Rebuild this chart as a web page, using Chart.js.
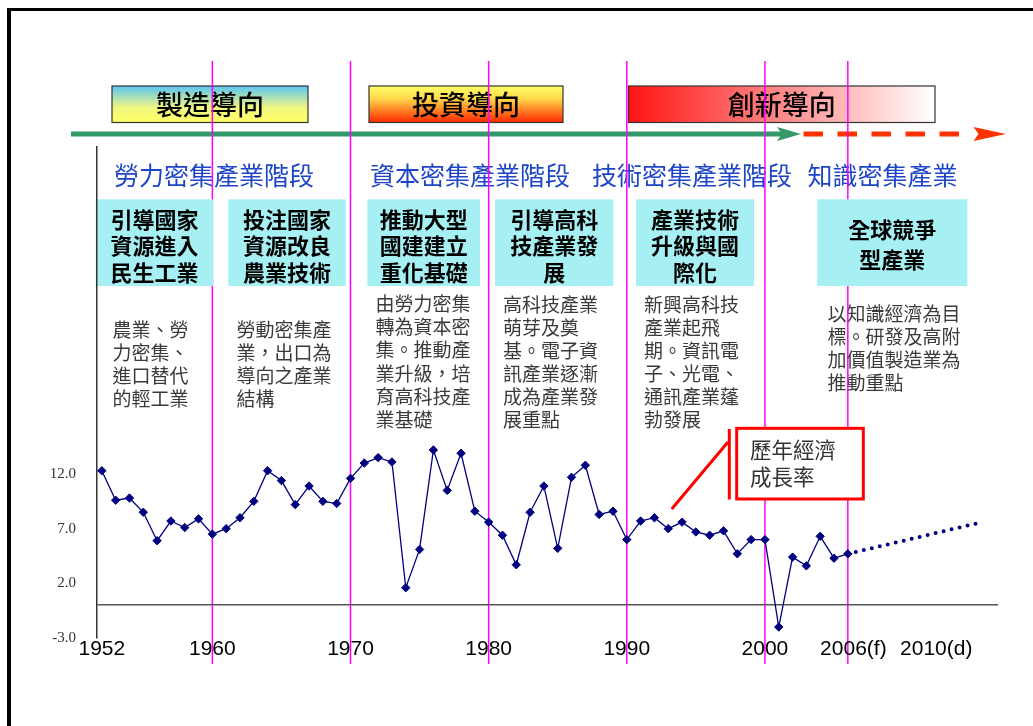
<!DOCTYPE html>
<html lang="zh-Hant">
<head>
<meta charset="utf-8">
<title>台灣產業發展階段與歷年經濟成長率</title>
<script src="https://cdn.jsdelivr.net/npm/chart.js@4.4.1/dist/chart.umd.min.js"></script>
<style>
  html, body { margin: 0; padding: 0; background: #fff; }
  #wrap { width: 1033px; height: 726px; }
</style>
</head>
<body>
<div id="wrap"><canvas id="growth" width="1033" height="726"></canvas></div>
<script>
// annual economic growth rate (%)
const years = [1952, 1953, 1954, 1955, 1956, 1957, 1958, 1959, 1960, 1961,
               1962, 1963, 1964, 1965, 1966, 1967, 1968, 1969, 1970, 1971,
               1972, 1973, 1974, 1975, 1976, 1977, 1978, 1979, 1980, 1981,
               1982, 1983, 1984, 1985, 1986, 1987, 1988, 1989, 1990, 1991,
               1992, 1993, 1994, 1995, 1996, 1997, 1998, 1999, 2000, 2001,
               2002, 2003, 2004, 2005, 2006];
const growth = [12.3, 9.6, 9.8, 8.5, 5.9, 7.7, 7.1, 7.9, 6.5, 7.0,
                8.0, 9.5, 12.3, 11.4, 9.2, 10.9, 9.5, 9.3, 11.6, 13.0,
                13.5, 13.1, 1.6, 5.1, 14.2, 10.5, 13.9, 8.6, 7.6, 6.4,
                3.7, 8.5, 10.9, 5.2, 11.7, 12.8, 8.3, 8.6, 6.0, 7.7,
                8.0, 7.0, 7.6, 6.7, 6.4, 6.8, 4.7, 6.0, 6.0, -2.0,
                4.4, 3.6, 6.3, 4.3, 4.7];

// dotted outlook after 2006
const projYears = [2006, 2015.4];
const projGrowth = [4.7, 7.5];

// axes
const yTickValues = [-3, 2, 7, 12];
const xTickYears = [1952, 1960, 1970, 1980, 1990, 2000, 2006.4, 2012.4];
const xTickLabels = ['1952', '1960', '1970', '1980', '1990', '2000', '2006(f)', '2010(d)'];
const periodYears = [1960, 1970, 1980, 1990, 2000, 2006];

// text annotations
const policyLabels = ['製造導向', '投資導向', '創新導向'];
const stageLabels = ['勞力密集產業階段', '資本密集產業階段', '技術密集產業階段', '知識密集產業'];
const strategyLabels = [
    ['引導國家', '資源進入', '民生工業'],
    ['投注國家', '資源改良', '農業技術'],
    ['推動大型', '國建建立', '重化基礎'],
    ['引導高科', '技產業發', '展'],
    ['產業技術', '升級與國', '際化'],
    ['全球競爭', '型產業']
];
const noteLabels = [
    ['農業、勞', '力密集、', '進口替代', '的輕工業'],
    ['勞動密集產', '業，出口為', '導向之產業', '結構'],
    ['由勞力密集', '轉為資本密', '集。推動產', '業升級，培', '育高科技產', '業基礎'],
    ['高科技產業', '萌芽及奠', '基。電子資', '訊產業逐漸', '成為產業發', '展重點'],
    ['新興高科技', '產業起飛', '期。資訊電', '子、光電、', '通訊產業蓬', '勃發展'],
    ['以知識經濟為目', '標。研發及高附', '加價值製造業為', '推動重點']
];
const calloutLabel = ['歷年經濟', '成長率'];

const CJK = '"Noto Sans CJK TC", "Noto Sans CJK JP", sans-serif';

function writeText(ctx, s, x, y, font, color, align) {
    ctx.font = font;
    ctx.fillStyle = color;
    ctx.textAlign = align || 'left';
    ctx.textBaseline = 'middle';
    ctx.fillText(s, x, y);
}

function arrowHead(ctx, x0, tip, y, half, notch) {
    ctx.beginPath();
    ctx.moveTo(x0, y - half);
    ctx.lineTo(tip, y);
    ctx.lineTo(x0, y + half);
    ctx.lineTo(x0 + notch, y);
    ctx.closePath();
    ctx.fill();
}

// everything around the line is painted before Chart.js draws axes and data
const overlay = {
    id: 'overlay',
    beforeDraw(chart) {
        const ctx = chart.ctx;
        const xs = chart.scales.x;
        ctx.save();

        // frame
        ctx.fillStyle = '#000';
        ctx.fillRect(7, 8, 4, 718);
        ctx.fillRect(7, 8, 1026, 3);

        // policy boxes
        const boxes = [
            { x: 112, w: 196, grad: () => {
                const g = ctx.createLinearGradient(0, 86, 0, 122);
                g.addColorStop(0, '#58c6f6');
                g.addColorStop(0.6, '#f2f680');
                g.addColorStop(1, '#ffff66');
                return g; } },
            { x: 369, w: 194, grad: () => {
                const g = ctx.createLinearGradient(0, 86, 0, 122);
                g.addColorStop(0, '#ffff66');
                g.addColorStop(0.35, '#ffd84a');
                g.addColorStop(1, '#ff2a00');
                return g; } },
            { x: 628.5, w: 306.5, grad: () => {
                const g = ctx.createLinearGradient(628, 0, 935, 0);
                g.addColorStop(0, '#ff1414');
                g.addColorStop(1, '#ffffff');
                return g; } }
        ];
        boxes.forEach((b, i) => {
            ctx.fillStyle = b.grad();
            ctx.fillRect(b.x, 86, b.w, 36.5);
            ctx.strokeStyle = '#333';
            ctx.lineWidth = 1.2;
            ctx.strokeRect(b.x, 86, b.w, 36.5);
            writeText(ctx, policyLabels[i], b.x + b.w / 2, 105, `500 27px ${CJK}`, '#000', 'center');
        });

        // green arrow, then dashed red arrow
        ctx.fillStyle = '#339966';
        ctx.fillRect(71, 131.5, 711, 5);
        arrowHead(ctx, 777, 801, 134, 7, 5);
        ctx.strokeStyle = '#ff3300';
        ctx.lineWidth = 5;
        ctx.setLineDash([19.5, 14.5]);
        ctx.beginPath();
        ctx.moveTo(803.5, 134);
        ctx.lineTo(960, 134);
        ctx.stroke();
        ctx.setLineDash([]);
        ctx.fillStyle = '#ff3300';
        arrowHead(ctx, 973.5, 1006, 134, 7, 5);

        // stage titles
        const stageX = [114, 370, 592, 807.5];
        stageLabels.forEach((s, i) => {
            writeText(ctx, s, stageX[i], 175, `25px ${CJK}`, '#1e44c8');
        });

        // notes
        const noteX = [112.5, 236.5, 375.5, 503, 644, 827.5];
        const noteY = [329.5, 329.5, 304, 304.3, 304.3, 313.3];
        noteLabels.forEach((lines, i) => {
            lines.forEach((s, j) => {
                writeText(ctx, s, noteX[i], noteY[i] + j * 23.1, `19px ${CJK}`, '#3a3a3a');
            });
        });

        // period dividers
        ctx.strokeStyle = '#ff00ff';
        ctx.lineWidth = 1.5;
        periodYears.forEach(yr => {
            const px = xs.getPixelForValue(yr);
            ctx.beginPath();
            ctx.moveTo(px, 61);
            ctx.lineTo(px, 664);
            ctx.stroke();
        });

        // strategy boxes
        const stratX = [[95.7, 213.3], [228.3, 345.7], [367.3, 480], [495, 613.3], [636, 754], [817.3, 967.3]];
        strategyLabels.forEach((lines, i) => {
            const [x0, x1] = stratX[i];
            ctx.fillStyle = '#a6f0f4';
            ctx.fillRect(x0, 199.3, x1 - x0, 86.7);
            const ys = lines.length === 3 ? [219.3, 246, 272.6] : [229.3, 259.3];
            lines.forEach((s, j) => {
                writeText(ctx, s, (x0 + x1) / 2, ys[j], `bold 22px ${CJK}`, '#000', 'center');
            });
        });

        // callout
        ctx.strokeStyle = '#ff0000';
        ctx.lineWidth = 3;
        ctx.fillStyle = '#fff';
        ctx.fillRect(736.7, 428.3, 126.6, 70.7);
        ctx.strokeRect(736.7, 428.3, 126.6, 70.7);
        ctx.beginPath();
        ctx.moveTo(729.3, 429);
        ctx.lineTo(729.3, 499.5);
        ctx.moveTo(728, 442);
        ctx.lineTo(671.7, 509);
        ctx.stroke();
        calloutLabel.forEach((s, j) => {
            writeText(ctx, s, 750, 450 + j * 26.7, `21.5px ${CJK}`, '#333');
        });

        ctx.restore();
    }
};

new Chart(document.getElementById('growth'), {
    type: 'line',
    data: {
        datasets: [{
            label: '歷年經濟成長率',
            data: years.map((yr, i) => ({ x: yr, y: growth[i] })),
            borderColor: '#000080',
            backgroundColor: '#000080',
            borderWidth: 1.3,
            pointStyle: 'rectRot',
            pointRadius: 4.2,
            pointBorderWidth: 1,
            pointBorderColor: '#000080',
            tension: 0
        }, {
            label: '預測',
            data: projYears.map((yr, i) => ({ x: yr, y: projGrowth[i] })),
            borderColor: '#000080',
            borderWidth: 4,
            borderDash: [0, 8.2],
            borderCapStyle: 'round',
            pointRadius: 0,
            tension: 0
        }]
    },
    options: {
        responsive: false,
        animation: false,
        devicePixelRatio: 1,
        layout: { padding: { left: 0, top: 147, right: 35, bottom: 48 } },
        plugins: {
            legend: { display: false },
            tooltip: { enabled: false }
        },
        scales: {
            x: {
                type: 'linear',
                min: 1951.65,
                max: 2016.87,
                afterBuildTicks: (scale) => {
                    scale.ticks = xTickYears.map(v => ({ value: v }));
                },
                afterFit: (scale) => { scale.height = 40; },
                grid: { display: false },
                border: { display: false },
                ticks: {
                    autoSkip: false,
                    maxRotation: 0,
                    padding: -7,
                    color: '#000',
                    font: { family: '"Liberation Sans", Arial, sans-serif', size: 21, lineHeight: 1 },
                    callback: (value, index) => xTickLabels[index]
                }
            },
            y: {
                min: -3,
                max: 41.91,
                afterBuildTicks: (scale) => {
                    scale.ticks = [-3, 0, 2, 7, 12].map(v => ({ value: v }));
                },
                afterFit: (scale) => { scale.width = 97; },
                grid: {
                    drawTicks: false,
                    lineWidth: 1.5,
                    color: (c) => (c.tick && c.tick.value === 0 ? '#555' : 'rgba(0,0,0,0)')
                },
                border: { color: '#333', width: 1.5 },
                ticks: {
                    padding: 21,
                    color: '#333',
                    font: { family: '"Liberation Serif", "Times New Roman", serif', size: 15 },
                    callback: (value) => (yTickValues.includes(value) ? value.toFixed(1) : '')
                }
            }
        }
    },
    plugins: [overlay]
});
</script>
</body>
</html>
